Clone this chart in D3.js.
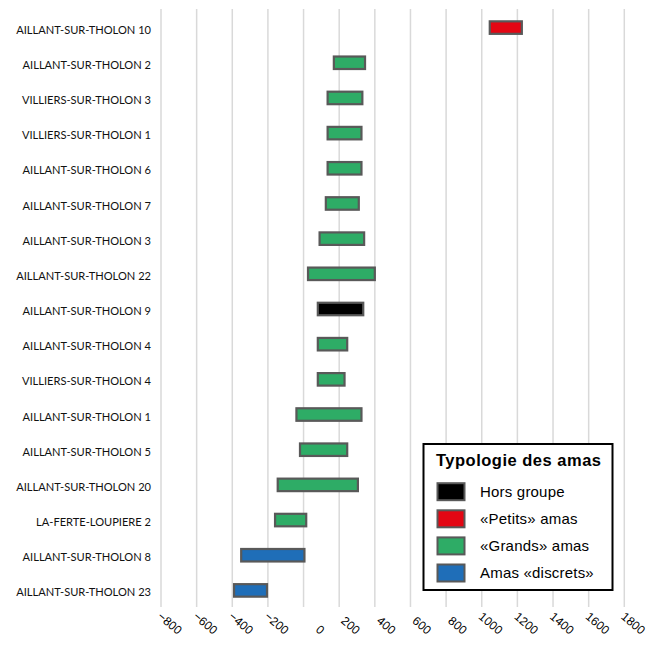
<!DOCTYPE html>
<html>
<head>
<meta charset="utf-8">
<script src="https://cdn.jsdelivr.net/npm/d3@7"></script>
<style>
  html, body { margin: 0; padding: 0; background: #ffffff; }
  svg { display: block; }
</style>
</head>
<body>
<svg id="chart" width="647" height="647"></svg>
<script>
const categories = [
  "AILLANT-SUR-THOLON 10", "AILLANT-SUR-THOLON 2", "VILLIERS-SUR-THOLON 3",
  "VILLIERS-SUR-THOLON 1", "AILLANT-SUR-THOLON 6", "AILLANT-SUR-THOLON 7",
  "AILLANT-SUR-THOLON 3", "AILLANT-SUR-THOLON 22", "AILLANT-SUR-THOLON 9",
  "AILLANT-SUR-THOLON 4", "VILLIERS-SUR-THOLON 4", "AILLANT-SUR-THOLON 1",
  "AILLANT-SUR-THOLON 5", "AILLANT-SUR-THOLON 20", "LA-FERTE-LOUPIERE 2",
  "AILLANT-SUR-THOLON 8", "AILLANT-SUR-THOLON 23"
];
const startValues = [1045, 170, 135, 135, 135, 125, 90, 25, 80, 80, 80, -40, -20, -145, -160, -350, -390];
const endValues   = [1225, 345, 330, 325, 325, 310, 340, 400, 335, 245, 230, 325, 245, 305, 15, 5, -205];
const groups = ["Petits", "Grands", "Grands", "Grands", "Grands", "Grands", "Grands", "Grands",
  "Hors", "Grands", "Grands", "Grands", "Grands", "Grands", "Grands", "Discrets", "Discrets"];
const groupKeys = ["Hors", "Petits", "Grands", "Discrets"];
const groupLabels = ["Hors groupe", "«Petits» amas", "«Grands» amas", "Amas «discrets»"];
const groupColors = ["#000000", "#e30613", "#2eac66", "#1f6eb8"];
const xTicks = [-800, -600, -400, -200, 0, 200, 400, 600, 800, 1000, 1200, 1400, 1600, 1800];
const legendTitle = "Typologie des amas";

const svg = d3.select("#chart");
const x = d3.scaleLinear().domain([-800, 1800]).range([161, 624.3]);
const y = d3.scaleBand().domain(categories).range([10, 608]).paddingInner(0).paddingOuter(0);
const color = d3.scaleOrdinal().domain(groupKeys).range(groupColors);

// gridlines
svg.append("g").selectAll("line").data(xTicks).join("line")
  .attr("x1", d => x(d)).attr("x2", d => x(d))
  .attr("y1", 9).attr("y2", 607)
  .attr("stroke", "#d9d9d9").attr("stroke-width", 1.5);

// x axis labels
const xAxis = d3.axisBottom(x).tickValues(xTicks).tickSize(0).tickFormat(d3.format("d"));
const gx = svg.append("g").call(xAxis);
gx.select(".domain").remove();
gx.selectAll(".tick").attr("transform", d => `translate(${x(d) + 16.5},635)`);
gx.selectAll(".tick text")
  .attr("x", 0).attr("y", 0).attr("dy", 0)
  .attr("text-anchor", "end")
  .attr("transform", "rotate(40)")
  .attr("font-family", "Liberation Sans, Arial, sans-serif")
  .attr("font-size", 12).attr("fill", "#000");

// y axis labels
const yAxis = d3.axisLeft(y).tickSize(0).tickPadding(0);
const gy = svg.append("g").attr("transform", "translate(151,2.5)").call(yAxis);
gy.select(".domain").remove();
gy.selectAll(".tick text")
  .attr("font-family", "Lato, 'Open Sans', sans-serif")
  .attr("font-size", 11.1).attr("fill", "#111");

// bars
const barH = 12.5;
const data = categories.map((c, i) => ({ c, s: startValues[i], e: endValues[i], g: groups[i] }));
svg.append("g").selectAll("rect").data(data).join("rect")
  .attr("x", d => x(d.s))
  .attr("width", d => x(d.e) - x(d.s))
  .attr("y", d => y(d.c) + y.bandwidth() / 2 - barH / 2)
  .attr("height", barH)
  .attr("fill", d => color(d.g))
  .attr("stroke", "#595959").attr("stroke-width", 2.2);

// legend
const lg = svg.append("g");
lg.append("rect").attr("x", 423.5).attr("y", 444).attr("width", 189).attr("height", 146)
  .attr("fill", "#fff").attr("stroke", "#000").attr("stroke-width", 2);
lg.append("text").attr("x", 436).attr("y", 466)
  .attr("font-family", "Liberation Sans, Arial, sans-serif").attr("font-weight", "bold")
  .attr("font-size", 16.5).attr("letter-spacing", 0.5).attr("fill", "#000").text(legendTitle);
groupKeys.forEach((k, i) => {
  const cy = 491.7 + i * 27.1;
  lg.append("rect").attr("x", 437.5).attr("y", cy - 8.5).attr("width", 27).attr("height", 17)
    .attr("fill", groupColors[i]).attr("stroke", "#595959").attr("stroke-width", 2);
  lg.append("text").attr("x", 480).attr("y", cy + 5.2)
    .attr("font-family", "Liberation Sans, Arial, sans-serif")
    .attr("font-size", 15).attr("letter-spacing", 0.2).attr("fill", "#000").text(groupLabels[i]);
});
</script>
</body>
</html>
